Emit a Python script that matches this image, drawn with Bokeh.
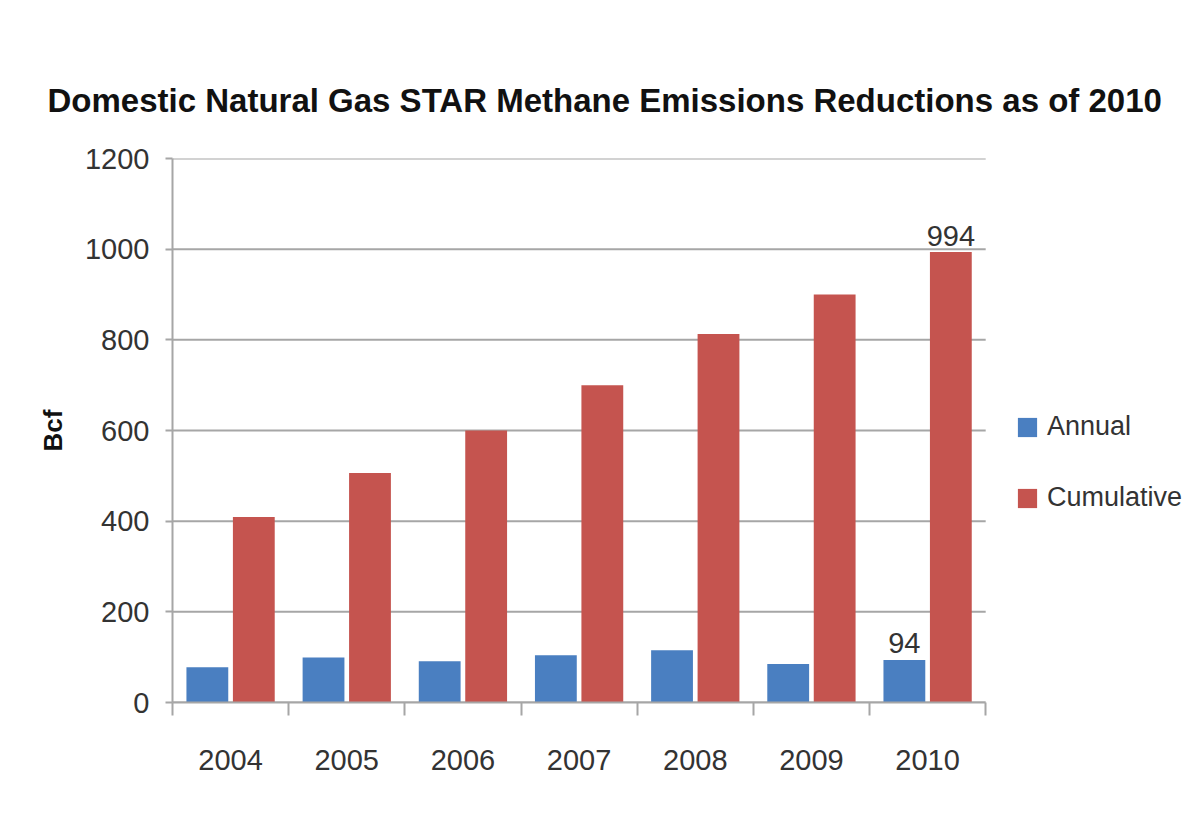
from bokeh.plotting import figure
from bokeh.models import (ColumnDataSource, Range1d, FixedTicker, Legend, LegendItem)
from bokeh.transform import dodge
from bokeh.core.properties import value
from bokeh.embed import file_html
from bokeh.resources import INLINE

years = ["2004", "2005", "2006", "2007", "2008", "2009", "2010"]
annual = [78, 99, 91, 104, 115, 85, 94]
cumulative = [409, 506, 600, 700, 813, 900, 994]
y_ticks = [0, 200, 400, 600, 800, 1000, 1200]

FONT = "Liberation Sans"
BLUE = "#4a7fc1"
RED = "#c5544f"
GRID = "#a6a6a6"
TXT = "#333333"

n = len(years)
idx = list(range(n))
src = ColumnDataSource(dict(x=idx, annual=annual, cumulative=cumulative))

# frame spans the plot area plus room on the right for the legend
x_start, x_end = -0.5, n - 0.5
legend_room = 1.72  # extra category widths to the right of the plot area

p = figure(width=1185, height=815, output_backend="svg", toolbar_location=None,
           x_range=Range1d(x_start, x_end + legend_room), y_range=Range1d(0, 1200),
           min_border_left=172, min_border_top=158, min_border_bottom=113,
           min_border_right=0, outline_line_color=None)

p.title.text = "Domestic Natural Gas STAR Methane Emissions Reductions as of 2010"
p.title.text_font = FONT
p.title.text_font_size = "33px"
p.title.text_font_style = "bold"
p.title.text_color = "#111111"
p.title.align = "left"
p.title.offset = -125
p.title.standoff = 80

# horizontal grid lines limited to the plot area
p.segment(x0=[x_start] * len(y_ticks), x1=[x_end] * len(y_ticks), y0=y_ticks, y1=y_ticks,
          line_color=GRID, line_width=2)

w = 0.36
r1 = p.vbar(x=dodge("x", -0.2, range=p.x_range), top="annual", width=w, source=src,
            fill_color=BLUE, line_color=None)
r2 = p.vbar(x=dodge("x", 0.2, range=p.x_range), top="cumulative", width=w, source=src,
            fill_color=RED, line_color=None)

# value labels for 2010
last = n - 1
p.text(x=[last + 0.2], y=[cumulative[last]], text=[str(cumulative[last])],
       text_align="center", text_baseline="bottom", y_offset=-6,
       text_font=value(FONT), text_font_size="29px", text_color=TXT)
p.text(x=[last - 0.2], y=[annual[last]], text=[str(annual[last])],
       text_align="center", text_baseline="bottom", y_offset=-7,
       text_font=value(FONT), text_font_size="29px", text_color=TXT)

# x axis
p.xaxis.ticker = FixedTicker(ticks=idx, minor_ticks=[i - 0.5 for i in range(n + 1)])
p.xaxis.bounds = (x_start, x_end)
p.xaxis.major_label_overrides = {i: y for i, y in zip(idx, years)}
p.xaxis.major_tick_out = 0
p.xaxis.major_tick_in = 0
p.xaxis.minor_tick_out = 13
p.xaxis.minor_tick_in = 0
p.xaxis.minor_tick_line_color = GRID
p.xaxis.minor_tick_line_width = 2
p.xaxis.axis_line_color = GRID
p.xaxis.axis_line_width = 2
p.xaxis.major_label_text_font = FONT
p.xaxis.major_label_text_font_size = "29px"
p.xaxis.major_label_text_color = TXT
p.xaxis.major_label_standoff = 34
p.xgrid.grid_line_color = None

# y axis
p.yaxis.ticker = FixedTicker(ticks=y_ticks, minor_ticks=[])
p.yaxis.major_tick_out = 7
p.yaxis.major_tick_in = 0
p.yaxis.major_tick_line_color = GRID
p.yaxis.major_tick_line_width = 2
p.yaxis.axis_line_color = GRID
p.yaxis.axis_line_width = 2
p.yaxis.major_label_text_font = FONT
p.yaxis.major_label_text_font_size = "29px"
p.yaxis.major_label_text_color = TXT
p.yaxis.major_label_standoff = 16
p.yaxis.axis_label = "Bcf"
p.yaxis.axis_label_text_font = FONT
p.yaxis.axis_label_text_font_size = "26px"
p.yaxis.axis_label_text_font_style = "bold"
p.yaxis.axis_label_text_color = "#111111"
p.yaxis.axis_label_standoff = 14
p.ygrid.grid_line_color = None

legend = Legend(items=[LegendItem(label="Annual", renderers=[r1]),
                       LegendItem(label="Cumulative", renderers=[r2])],
                location=(843, 189), orientation="vertical",
                glyph_width=24, glyph_height=24, label_height=30, label_standoff=8,
                label_text_font=FONT, label_text_font_size="27px",
                label_text_color=TXT, spacing=40, padding=0, margin=0,
                border_line_color=None, background_fill_alpha=0)
p.add_layout(legend)

open("out.html", "w").write(file_html(p, INLINE))
